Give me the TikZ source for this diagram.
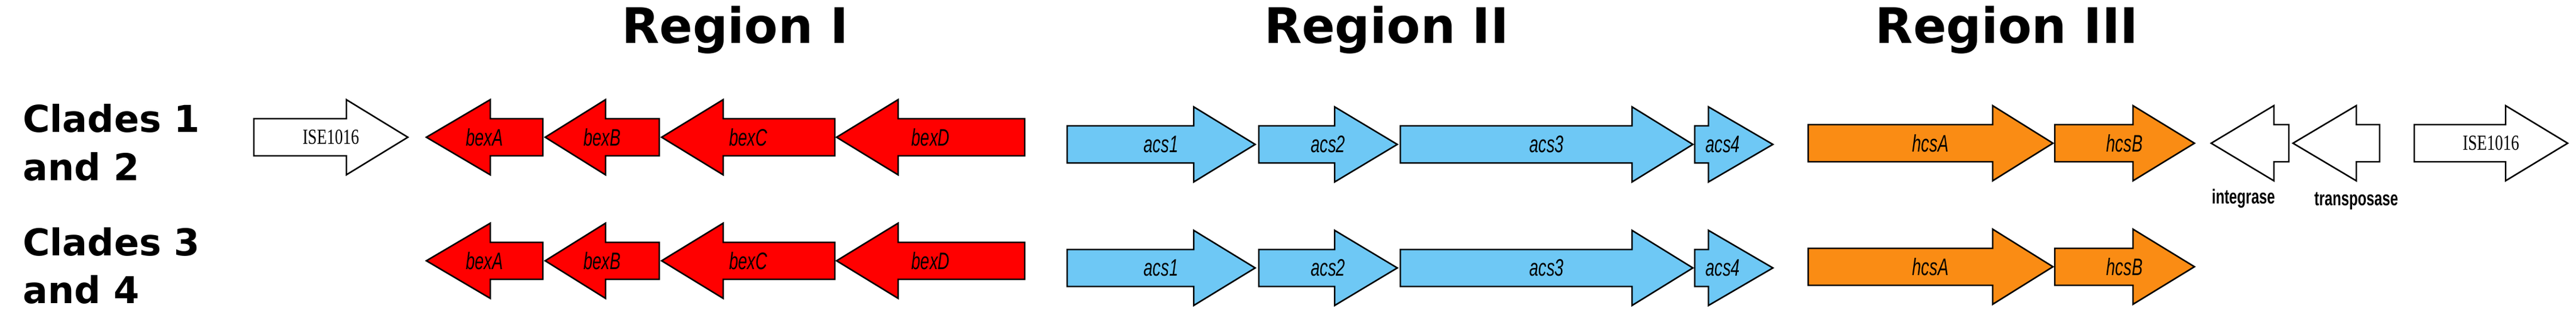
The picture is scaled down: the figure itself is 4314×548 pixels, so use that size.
\documentclass[tikz,border=0pt]{standalone}
\usepackage{fontspec}
\setmainfont{DejaVu Sans}
\newfontfamily\genefont[FakeStretch=0.68]{Liberation Sans}
\newfontfamily\isfont[FakeStretch=0.75]{Liberation Serif}
\newfontfamily\lblfont[FakeStretch=0.7]{Liberation Sans}
\definecolor{gred}{HTML}{FF0000}
\definecolor{gblue}{HTML}{6EC8F5}
\definecolor{gorange}{HTML}{FA8C14}
\newcommand\genearrow[7]{%
  \draw[genestyle,fill=#5] (#1,#4-31) -- (#2,#4-31) -- (#2,#4-63) -- (#3,#4) -- (#2,#4+63) -- (#2,#4+31) -- (#1,#4+31) -- cycle;
  \node[font=#7] at ({(#1+#3)/2},#4) {#6};}
\begin{document}
\begin{tikzpicture}[x=1pt,y=-1pt,genestyle/.style={draw=black,line width=2.5pt,line join=miter}]
\useasboundingbox[fill=white] (0,0) rectangle (4314,548);
\node[font=\bfseries\fontsize{82}{90}\selectfont,anchor=base] (r1) at (1231,73) {Region I};
\node[font=\bfseries\fontsize{82}{90}\selectfont,anchor=base] (r2) at (2322,73) {Region II};
\node[font=\bfseries\fontsize{82}{90}\selectfont,anchor=base] (r3) at (3361,73) {Region III};
\node[font=\bfseries\fontsize{62}{80}\selectfont,anchor=base west,inner sep=0] (c12) at (38,222) {Clades 1};
\node[font=\bfseries\fontsize{62}{80}\selectfont,anchor=base west,inner sep=0] (c12b) at (38,302) {and 2};
\node[font=\bfseries\fontsize{62}{80}\selectfont,anchor=base west,inner sep=0] (c34) at (38,428) {Clades 3};
\node[font=\bfseries\fontsize{62}{80}\selectfont,anchor=base west,inner sep=0] (c34b) at (38,508) {and 4};
\genearrow{425}{580}{683}{230}{white}{ISE1016}{\isfont\fontsize{36}{38}\selectfont}
\foreach \yy in {230,437}{
\genearrow{909}{821}{714}{\yy}{gred}{\itshape bexA}{\genefont\fontsize{40}{42}\selectfont}
\genearrow{1104}{1014}{913}{\yy}{gred}{\itshape bexB}{\genefont\fontsize{40}{42}\selectfont}
\genearrow{1398}{1211}{1108}{\yy}{gred}{\itshape bexC}{\genefont\fontsize{40}{42}\selectfont}
\genearrow{1716}{1504}{1401}{\yy}{gred}{\itshape bexD}{\genefont\fontsize{40}{42}\selectfont}
}
\foreach \yy in {242,449}{
\genearrow{1787}{1999}{2102}{\yy}{gblue}{\itshape acs1}{\genefont\fontsize{40}{42}\selectfont}
\genearrow{2108}{2235}{2340}{\yy}{gblue}{\itshape acs2}{\genefont\fontsize{40}{42}\selectfont}
\genearrow{2345}{2733}{2835}{\yy}{gblue}{\itshape acs3}{\genefont\fontsize{40}{42}\selectfont}
\genearrow{2838}{2861}{2969}{\yy}{gblue}{}{\genefont}
\node[font=\genefont\fontsize{40}{42}\selectfont\itshape] at (2885,\yy) {acs4};
}
\foreach \yy in {240,447}{
\genearrow{3028}{3337}{3438}{\yy}{gorange}{\itshape hcsA}{\genefont\fontsize{40}{42}\selectfont}
\genearrow{3441}{3572}{3675}{\yy}{gorange}{\itshape hcsB}{\genefont\fontsize{40}{42}\selectfont}
}
\genearrow{3833}{3808}{3703}{240}{white}{}{\genefont}
\genearrow{3985}{3946}{3840}{240}{white}{}{\genefont}
\genearrow{4043}{4196}{4300}{240}{white}{ISE1016}{\isfont\fontsize{36}{38}\selectfont}
\node[font=\lblfont\bfseries\fontsize{34}{36}\selectfont] (int) at (3757,333) {integrase};
\node[font=\lblfont\bfseries\fontsize{34}{36}\selectfont] (tra) at (3946,337) {transposase};
\end{tikzpicture}
\end{document}
